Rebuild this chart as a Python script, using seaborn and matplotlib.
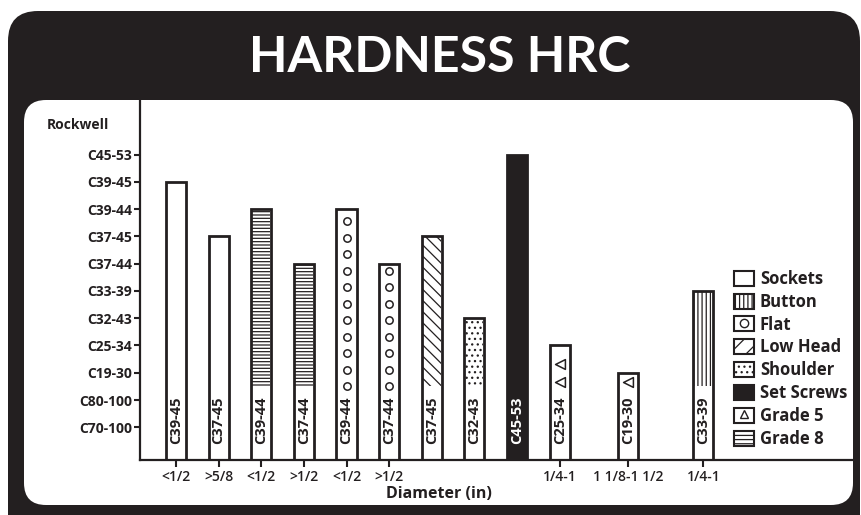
import numpy as np
import pandas as pd
import seaborn as sns
import matplotlib.pyplot as plt
from matplotlib.patches import FancyBboxPatch, Patch
from matplotlib.lines import Line2D
from matplotlib.legend_handler import HandlerTuple
from matplotlib.transforms import IdentityTransform

# hardness scale on the y axis, bottom to top
levels = ['C70-100', 'C80-100', 'C19-30', 'C25-34', 'C32-43', 'C33-39',
          'C37-44', 'C37-45', 'C39-44', 'C39-45', 'C45-53']

# one entry per bar, left to right
hardness = ['C39-45', 'C37-45', 'C39-44', 'C37-44', 'C39-44', 'C37-44',
            'C37-45', 'C32-43', 'C45-53', 'C25-34', 'C19-30', 'C33-39']
screw_type = ['Sockets', 'Sockets', 'Grade 8', 'Grade 8', 'Flat', 'Flat',
              'Low Head', 'Shoulder', 'Set Screws', 'Grade 5', 'Grade 5', 'Button']
diameter = ['<1/2', '>5/8', '<1/2', '>1/2', '<1/2', '>1/2',
            '', '', '', '1/4-1', '1 1/8-1 1/2', '1/4-1']

legend_order = ['Sockets', 'Button', 'Flat', 'Low Head', 'Shoulder',
                'Set Screws', 'Grade 5', 'Grade 8']

# layout (not data)
slot = [0, 1, 2, 3, 4, 5, 6, 7, 8, 9, 10.6, 12.37]
BASE = 1.2          # first level sits a bit above the x axis
LABEL_FROM = 0.59   # where the text inside a bar starts
DECO_FROM = 2.71    # where hatch / symbols start above the text
BAR_W = 0.47
INK = '#231f20'

hatches = {'Grade 8': '-----', 'Button': '||||', 'Low Head': '\\\\\\', 'Shoulder': '...'}
symbols = {'Flat': ('o', 0.605, 0.2, 28), 'Grade 5': ('<', 0.68, 0.3, 50)}

sns.set_style('ticks')
plt.rcParams['font.family'] = ['Open Sans', 'DejaVu Sans']
plt.rcParams['hatch.linewidth'] = 0.9
plt.rcParams['hatch.color'] = INK

df = pd.DataFrame({
    'slot': slot,
    'height': [levels.index(h) + BASE for h in hardness],
    'hardness': hardness,
    'type': screw_type,
})

fig = plt.figure(figsize=(8.61, 5.15), dpi=100)
fig.patch.set_facecolor('white')

# black frame with white panel
fig.add_artist(FancyBboxPatch((8, -30), 852, 534, boxstyle='round,pad=0,rounding_size=30',
                              transform=IdentityTransform(), fc=INK, ec='none', zorder=-10))
fig.add_artist(FancyBboxPatch((24, 10), 829, 405, boxstyle='round,pad=0,rounding_size=22',
                              transform=IdentityTransform(), fc='white', ec='none', zorder=-9))

ax = fig.add_axes([140 / 861, 1 - 460 / 515, (853 - 140) / 861, 360 / 515])
ax.set_facecolor('none')

sns.barplot(data=df, x='slot', y='height', native_scale=True, width=BAR_W,
            color='white', saturation=1, edgecolor=INK, linewidth=2,
            errorbar=None, ax=ax)

for p, row in zip(ax.patches, df.itertuples()):
    if row.type == 'Set Screws':
        p.set_facecolor(INK)

for row in df.itertuples():
    if row.type in hatches:
        ax.bar(row.slot, row.height - DECO_FROM, bottom=DECO_FROM, width=BAR_W * 0.9,
               fill=False, hatch=hatches[row.type], linewidth=0, edgecolor=INK, zorder=3)
    if row.type in symbols:
        marker, step, gap, size = symbols[row.type]
        ys = np.arange(DECO_FROM if marker == 'o' else DECO_FROM + 0.14,
                       row.height - gap + 1e-9, step)
        ax.scatter(np.full(len(ys), row.slot), ys, marker=marker, s=size,
                   facecolor='white', edgecolor=INK, linewidth=1.1, zorder=4)
    ax.text(row.slot, LABEL_FROM, row.hardness, rotation=90, ha='center', va='bottom',
            fontsize=10.5, fontweight='bold',
            color='white' if row.type == 'Set Screws' else INK, zorder=5)

ax.set_xlim(-0.844, 15.88)
ax.set_ylim(0, 13.2)
ax.set_yticks([i + BASE for i in range(len(levels))], levels)
ax.set_xticks([s for s, d in zip(slot, diameter) if d], [d for d in diameter if d])
ax.tick_params(axis='y', length=4, width=1.5, pad=1.5, color=INK, labelcolor=INK,
               labelsize=10)
ax.tick_params(axis='x', length=5, width=1.5, pad=2, color=INK, labelcolor=INK,
               labelsize=10)
for lab in ax.get_yticklabels():
    lab.set_fontweight('bold')
for lab in ax.get_xticklabels():
    lab.set_fontweight('semibold')

sns.despine(ax=ax)
for side in ['left', 'bottom']:
    ax.spines[side].set_color(INK)
    ax.spines[side].set_linewidth(1.6)

ax.set_xlabel('Diameter (in)', fontsize=11.5, fontweight='bold', color=INK)
ax.xaxis.set_label_coords((439 - 140) / 713, (460 - 494) / 360)
ax.xaxis.label.set_va('center')
ax.set_ylabel('')

fig.text(47 / 861, 1 - 125 / 515, 'Rockwell', ha='left', va='center',
         fontsize=10, fontweight='bold', color=INK)
fig.text(440 / 861, 1 - 58 / 515, 'HARDNESS HRC', ha='center', va='center',
         fontsize=36, fontweight='bold', color='white', family=['Lato', 'DejaVu Sans'])

# legend
handles = []
for name in legend_order:
    if name == 'Set Screws':
        h = Patch(fc=INK, ec=INK, lw=1.5)
    elif name in hatches:
        leg_hatch = {'Grade 8': '----', 'Button': '||||', 'Low Head': '//', 'Shoulder': '...'}[name]
        h = Patch(fc='white', ec=INK, lw=1.5, hatch=leg_hatch)
    elif name in symbols:
        m = '^' if name == 'Grade 5' else 'o'
        h = (Patch(fc='white', ec=INK, lw=1.5),
             Line2D([], [], ls='', marker=m, ms=6, mfc='white', mec=INK, mew=1))
    else:
        h = Patch(fc='white', ec=INK, lw=1.5)
    handles.append(h)

leg = fig.legend(handles, legend_order, loc='upper left',
                 bbox_to_anchor=(734 / 861, 1 - 270 / 515), frameon=False,
                 prop={'weight': 'bold', 'size': 12}, handlelength=1.2,
                 handleheight=1.0, handletextpad=0.35, labelspacing=0.29,
                 borderpad=0, borderaxespad=0,
                 handler_map={tuple: HandlerTuple(ndivide=1)})
for t in leg.get_texts():
    t.set_color(INK)

fig.savefig('out.png', dpi=100)
